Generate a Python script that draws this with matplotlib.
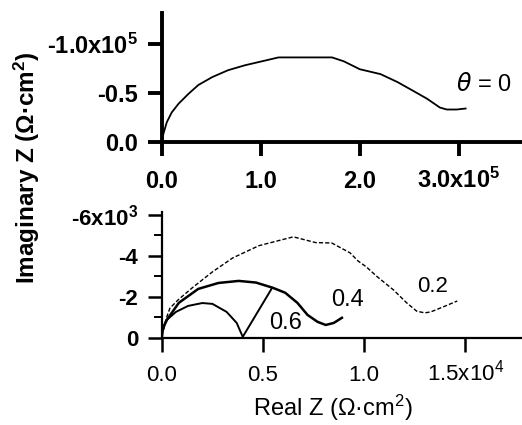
import matplotlib
matplotlib.use('Agg')
import matplotlib.pyplot as plt
from matplotlib.ticker import FixedLocator

plt.rcParams['font.family'] = ['Liberation Sans', 'DejaVu Sans']
plt.rcParams['mathtext.default'] = 'regular'

# theta = 0 (x in 1e5, -Z'' in 1e5)
x_t0 = [0.0, 0.016, 0.05, 0.10, 0.17, 0.27, 0.37, 0.51, 0.67, 0.84, 1.01, 1.18, 1.40, 1.72, 1.84, 2.00, 2.21, 2.38, 2.54, 2.68, 2.81, 2.88, 2.98, 3.07]
y_t0 = [0.0, 0.083, 0.20, 0.30, 0.39, 0.49, 0.58, 0.66, 0.73, 0.78, 0.82, 0.86, 0.86, 0.86, 0.82, 0.74, 0.69, 0.61, 0.52, 0.44, 0.35, 0.33, 0.33, 0.34]

# theta = 0.2, 0.4, 0.6 (x in 1e4, -Z'' in 1e3)
x_t2 = [0.01, 0.02, 0.04, 0.08, 0.15, 0.25, 0.35, 0.48, 0.61, 0.65, 0.76, 0.84, 0.93, 0.97, 1.01, 1.065, 1.145, 1.21, 1.26, 1.30, 1.33, 1.39, 1.46]
y_t2 = [0.4, 0.9, 1.45, 1.85, 2.44, 3.22, 3.90, 4.50, 4.83, 4.93, 4.65, 4.63, 4.15, 3.75, 3.47, 2.98, 2.34, 1.71, 1.30, 1.22, 1.27, 1.51, 1.80]

x_t4 = [0.0, 0.005, 0.025, 0.084, 0.18, 0.28, 0.38, 0.465, 0.55, 0.61, 0.67, 0.72, 0.77, 0.81, 0.85, 0.89]
y_t4 = [0.0, 0.45, 0.88, 1.71, 2.39, 2.68, 2.78, 2.70, 2.44, 2.20, 1.71, 1.12, 0.78, 0.63, 0.73, 0.98]

x_t6 = [0.0, 0.005, 0.025, 0.07, 0.13, 0.20, 0.25, 0.32, 0.37, 0.40, 0.545]
y_t6 = [0.0, 0.5, 0.88, 1.27, 1.56, 1.70, 1.66, 1.27, 0.73, 0.05, 2.44]

top_xticks = [0, 1, 2, 3]
top_xlabels = ['0.0', '1.0', '2.0', '3.0x10$^5$']
top_yticks = [0, 0.5, 1.0]
top_ylabels = ['0.0', '-0.5', '-1.0x10$^5$']

bot_xticks = [0, 0.5, 1.0, 1.5]
bot_xlabels = ['0.0', '0.5', '1.0', '1.5x10$^4$']
bot_yticks = [0, 2, 4, 6]
bot_ylabels = ['0', '-2', '-4', '-6x10$^3$']

fig = plt.figure(figsize=(5.22, 4.25), dpi=100)

# top panel
ax1 = fig.add_axes([0.310, 0.666, 0.690, 0.303])
ax1.plot(x_t0, y_t0, color='black', lw=1.3)
ax1.set_xlim(0, 3.64)
ax1.set_ylim(0, 1.31)
ax1.set_xticks(top_xticks)
ax1.set_xticklabels(top_xlabels)
ax1.set_yticks(top_yticks)
ax1.set_yticklabels(top_ylabels)
ax1.text(3.25, 0.58, r'$\mathit{\theta}$ = 0', fontsize=17, ha='center', va='center')
for s in ['top', 'right']:
    ax1.spines[s].set_visible(False)
for s in ['left', 'bottom']:
    ax1.spines[s].set_linewidth(2.8)
ax1.tick_params(direction='out', length=10, width=2.8, labelsize=17, pad=7)
ax1.tick_params(axis='x', pad=23)
for lab in ax1.get_xticklabels() + ax1.get_yticklabels():
    lab.set_fontweight('bold')
for lab in ax1.get_xticklabels():
    lab.set_verticalalignment('baseline')

# bottom panel
ax2 = fig.add_axes([0.310, 0.205, 0.690, 0.297])
ax2.plot(x_t2, y_t2, color='black', lw=1.0, linestyle=(0, (3, 1.5)))
ax2.plot(x_t4, y_t4, color='black', lw=1.8)
ax2.plot(x_t6, y_t6, color='black', lw=1.4)
ax2.set_xlim(0, 1.78)
ax2.set_ylim(0, 6.16)
ax2.set_xticks(bot_xticks)
ax2.set_xticklabels(bot_xlabels)
ax2.set_yticks(bot_yticks)
ax2.set_yticklabels(bot_ylabels)
ax2.yaxis.set_minor_locator(FixedLocator([1, 3, 5]))
ax2.text(0.92, 1.85, '0.4', fontsize=17, ha='center', va='center')
ax2.text(0.61, 0.73, '0.6', fontsize=17, ha='center', va='center')
ax2.text(1.34, 2.49, '0.2', fontsize=16, ha='center', va='center')
for s in ['top', 'right']:
    ax2.spines[s].set_visible(False)
for s in ['left', 'bottom']:
    ax2.spines[s].set_linewidth(1.6)
ax2.tick_params(which='major', direction='out', length=10, width=1.8, labelsize=16, pad=7)
ax2.tick_params(which='minor', direction='out', length=6, width=1.4)
ax2.tick_params(axis='x', pad=21)
for lab in ax2.get_yticklabels():
    lab.set_fontweight('bold')
for lab in ax2.get_xticklabels():
    lab.set_verticalalignment('baseline')

fig.text(0.052, 1 - 168 / 425, 'Imaginary Z (\u03a9\u00b7cm$^2$)', rotation=90,
         ha='center', va='center', fontsize=17.5, fontweight='bold')
fig.text(333 / 522, 1 - 408 / 425, 'Real Z (\u03a9\u00b7cm$^2$)',
         ha='center', va='center', fontsize=17)

fig.savefig('out.png', dpi=100)
